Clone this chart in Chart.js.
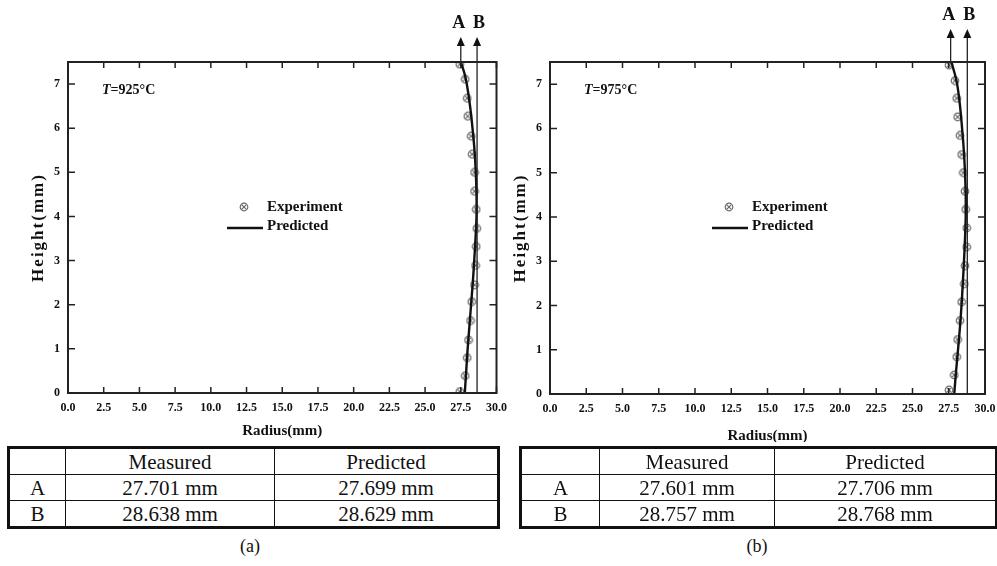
<!DOCTYPE html>
<html>
<head>
<meta charset="utf-8">
<script src="https://cdn.jsdelivr.net/npm/chart.js@4.4.1/dist/chart.umd.min.js"></script>
<style>
  body { margin:0; width:997px; height:566px; background:#fff; position:relative; overflow:hidden; font-family:"Liberation Serif", "Times New Roman", serif; color:#111; }
  canvas { position:absolute; top:0; }
  #chartA { left:0; }
  #chartB { left:500px; }
  table.res { position:absolute; top:446px; border-collapse:collapse; border:3px solid #111; font-size:21px; table-layout:fixed; }
  table.res td { border:1.5px solid #111; text-align:center; padding:0; height:25px; line-height:24px; }
  .cap { position:absolute; top:536px; font-size:18px; width:60px; text-align:center; }
</style>
</head>
<body>
<canvas id="chartA" width="510" height="442"></canvas>
<canvas id="chartB" width="497" height="442"></canvas>

<table class="res" style="left:7px; width:490px;">
  <colgroup><col style="width:57px"><col style="width:209px"><col style="width:224px"></colgroup>
  <tr><td></td><td>Measured</td><td>Predicted</td></tr>
  <tr><td>A</td><td>27.701 mm</td><td>27.699 mm</td></tr>
  <tr><td>B</td><td>28.638 mm</td><td>28.629 mm</td></tr>
</table>
<table class="res" style="left:519px; width:476px;">
  <colgroup><col style="width:79px"><col style="width:175px"><col style="width:222px"></colgroup>
  <tr><td></td><td>Measured</td><td>Predicted</td></tr>
  <tr><td>A</td><td>27.601 mm</td><td>27.706 mm</td></tr>
  <tr><td>B</td><td>28.757 mm</td><td>28.768 mm</td></tr>
</table>
<div class="cap" style="left:220px;">(a)</div>
<div class="cap" style="left:727px;">(b)</div>

<script>
// axis ticks
var radiusTicks = [0, 2.5, 5, 7.5, 10, 12.5, 15, 17.5, 20, 22.5, 25, 27.5, 30];
var heightTicks = [0, 1, 2, 3, 4, 5, 6, 7];

// (a) T=925°C
var expHeightA = [7.45, 7.11, 6.68, 6.27, 5.82, 5.41, 5.0, 4.57, 4.16, 3.73, 3.32, 2.89, 2.45, 2.07, 1.64, 1.2, 0.8, 0.39, 0.03];
var expRadiusA = [27.43, 27.81, 27.95, 27.99, 28.23, 28.29, 28.46, 28.46, 28.58, 28.62, 28.58, 28.53, 28.46, 28.27, 28.18, 28.04, 27.95, 27.81, 27.43];
var predHeightA = [0, 0.5, 1, 1.5, 2, 2.5, 3, 3.5, 4, 4.5, 5, 5.5, 6, 6.5, 7, 7.25, 7.5];
var predRadiusA = [27.78, 27.88, 27.98, 28.1, 28.22, 28.34, 28.44, 28.53, 28.6, 28.6, 28.55, 28.46, 28.32, 28.15, 27.92, 27.75, 27.5];
var markA = [27.5, 28.64];

// (b) T=975°C
var expHeightB = [7.43, 7.08, 6.68, 6.26, 5.84, 5.41, 5.0, 4.58, 4.17, 3.75, 3.32, 2.9, 2.49, 2.08, 1.66, 1.23, 0.84, 0.43, 0.09];
var expRadiusB = [27.52, 27.93, 28.05, 28.11, 28.28, 28.39, 28.51, 28.62, 28.67, 28.74, 28.74, 28.62, 28.57, 28.39, 28.28, 28.11, 28.05, 27.88, 27.52];
var predHeightB = [0, 0.5, 1, 1.5, 2, 2.5, 3, 3.5, 4, 4.5, 5, 5.5, 6, 6.5, 7, 7.25, 7.5];
var predRadiusB = [27.88, 28.0, 28.14, 28.27, 28.38, 28.47, 28.55, 28.62, 28.67, 28.67, 28.62, 28.54, 28.42, 28.28, 28.08, 27.9, 27.68];
var markB = [27.63, 28.78];

var markNames = ['A', 'B'];
var SERIF = '"Liberation Serif", "Times New Roman", serif';

// little circle-with-cross marker
function makeMarker() {
    var c = document.createElement('canvas');
    c.width = 10; c.height = 10;
    var g = c.getContext('2d');
    g.strokeStyle = '#6a6a6a';
    g.lineWidth = 1.2;
    g.beginPath(); g.arc(5, 5, 3.8, 0, Math.PI * 2); g.stroke();
    g.beginPath();
    g.moveTo(2.6, 2.6); g.lineTo(7.4, 7.4);
    g.moveTo(7.4, 2.6); g.lineTo(2.6, 7.4);
    g.stroke();
    return c;
}
var marker = makeMarker();

function pairs(xs, ys) {
    return xs.map(function (v, i) { return {x: v, y: ys[i]}; });
}

function decorPlugin(opt) {
    return {
        id: 'decor',
        afterDatasetsDraw: function (chart) {
            var ctx = chart.ctx, a = chart.chartArea, x = chart.scales.x, y = chart.scales.y;
            ctx.save();
            ctx.strokeStyle = '#222';
            ctx.fillStyle = '#111';

            // frame + inward ticks on all sides
            ctx.lineWidth = 2;
            ctx.strokeRect(a.left, a.top, a.right - a.left, a.bottom - a.top);
            ctx.lineWidth = 1.5;
            ctx.beginPath();
            x.ticks.forEach(function (t) {
                var px = x.getPixelForValue(t.value);
                ctx.moveTo(px, a.bottom); ctx.lineTo(px, a.bottom - 6);
                ctx.moveTo(px, a.top); ctx.lineTo(px, a.top + 6);
            });
            y.ticks.forEach(function (t) {
                var py = y.getPixelForValue(t.value);
                ctx.moveTo(a.left, py); ctx.lineTo(a.left + 7, py);
                ctx.moveTo(a.right, py); ctx.lineTo(a.right - 7, py);
            });
            ctx.stroke();

            // A / B arrows
            var tipY = a.top - opt.rise;
            opt.marks.forEach(function (v, i) {
                var px = x.getPixelForValue(v);
                ctx.lineWidth = 1.3;
                ctx.beginPath();
                ctx.moveTo(px, i === 0 ? a.top : a.bottom);
                ctx.lineTo(px, tipY + 6);
                ctx.stroke();
                ctx.beginPath();
                ctx.moveTo(px, tipY);
                ctx.lineTo(px - 4, tipY + 9);
                ctx.lineTo(px + 4, tipY + 9);
                ctx.closePath();
                ctx.fill();
                ctx.font = 'bold 18px ' + SERIF;
                ctx.textAlign = 'center';
                ctx.textBaseline = 'middle';
                ctx.fillText(markNames[i], px + (i === 0 ? -2 : 2), tipY - 14);
            });

            // temperature label
            var tx = a.left + 34, ty = a.top + 28;
            ctx.textAlign = 'left';
            ctx.textBaseline = 'middle';
            ctx.font = 'italic bold 14px ' + SERIF;
            ctx.fillText('T', tx, ty);
            tx += ctx.measureText('T').width;
            ctx.font = 'bold 14px ' + SERIF;
            ctx.fillText('=' + opt.temp + '°C', tx, ty);

            // legend
            var lx = a.left + opt.legX, ly = a.top + 145;
            ctx.drawImage(marker, lx + 17 - 5, ly - 5);
            ctx.lineWidth = 2.4;
            ctx.strokeStyle = '#111';
            ctx.beginPath();
            ctx.moveTo(lx, ly + 21); ctx.lineTo(lx + 36, ly + 21);
            ctx.stroke();
            ctx.font = 'bold 15px ' + SERIF;
            ctx.fillText('Experiment', lx + 40, ly);
            ctx.fillText('Predicted', lx + 40, ly + 19);

            // axis titles
            ctx.textAlign = 'center';
            ctx.font = 'bold 15px ' + SERIF;
            ctx.fillText('Radius(mm)', (a.left + a.right) / 2, a.bottom + opt.xTitle);
            ctx.save();
            ctx.translate(a.left - 29, (a.top + a.bottom) / 2);
            ctx.rotate(-Math.PI / 2);
            ctx.font = 'bold 17px ' + SERIF;
            ctx.letterSpacing = '2px';
            ctx.fillText('Height(mm)', 0, 0);
            ctx.restore();

            ctx.restore();
        }
    };
}

function buildChart(id, d) {
    var tickFont = {family: SERIF, size: 12, weight: 'bold'};
    return new Chart(document.getElementById(id), {
        type: 'scatter',
        data: {
            datasets: [
                {
                    label: 'Predicted',
                    data: pairs(d.predR, d.predH),
                    showLine: true,
                    borderColor: '#111',
                    borderWidth: 2.4,
                    pointRadius: 0,
                    tension: 0.4,
                    fill: false
                },
                {
                    label: 'Experiment',
                    data: pairs(d.expR, d.expH),
                    showLine: false,
                    pointStyle: marker,
                    pointRadius: 4
                }
            ]
        },
        options: {
            responsive: false,
            animation: false,
            events: [],
            layout: {padding: {left: 0, top: 62, right: d.padRight, bottom: 0}},
            plugins: {legend: {display: false}, tooltip: {enabled: false}},
            scales: {
                x: {
                    type: 'linear', min: 0, max: 30,
                    afterBuildTicks: function (s) { s.ticks = radiusTicks.map(function (v) { return {value: v}; }); },
                    ticks: {
                        callback: function (v) { return Number(v).toFixed(1); },
                        font: tickFont, color: '#111', padding: 8, maxRotation: 0, autoSkip: false
                    },
                    grid: {display: false, drawTicks: false},
                    border: {display: false},
                    afterFit: function (s) { s.height = d.xH; s.paddingLeft = 0; s.paddingRight = 0; }
                },
                y: {
                    type: 'linear', min: 0, max: 7.5,
                    afterBuildTicks: function (s) { s.ticks = heightTicks.map(function (v) { return {value: v}; }); },
                    ticks: {
                        callback: function (v) { return String(v); },
                        font: tickFont, color: '#111', padding: 8, autoSkip: false
                    },
                    grid: {display: false, drawTicks: false},
                    border: {display: false},
                    afterFit: function (s) { s.width = d.yW; s.paddingTop = 0; s.paddingBottom = 0; }
                }
            }
        },
        plugins: [decorPlugin({marks: d.marks, temp: d.temp, rise: d.rise, legX: d.legX, xTitle: d.xTitle})]
    });
}

buildChart('chartA', {
    expH: expHeightA, expR: expRadiusA, predH: predHeightA, predR: predRadiusA,
    marks: markA, temp: '925', rise: 25, legX: 159, xTitle: 38,
    padRight: 13.5, yW: 68, xH: 49
});
buildChart('chartB', {
    expH: expHeightB, expR: expRadiusB, predH: predHeightB, predR: predRadiusB,
    marks: markB, temp: '975', rise: 33, legX: 162, xTitle: 42,
    padRight: 12, yW: 50, xH: 48
});
</script>
</body>
</html>
